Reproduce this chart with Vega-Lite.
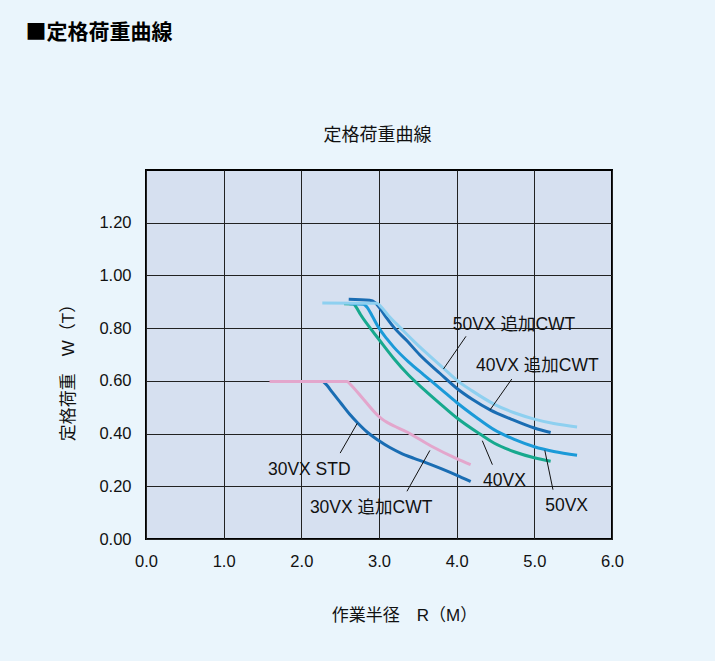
{
  "$schema": "https://vega.github.io/schema/vega-lite/v6.json",
  "width": 466,
  "height": 369,
  "autosize": {"type": "none"},
  "padding": {"left": 146, "top": 170, "right": 103, "bottom": 122},
  "background": "#eaf5fc",
  "config": {
    "font": "Liberation Sans, Noto Sans CJK JP",
    "view": {"fill": "#d6e0f0", "stroke": "#000000", "strokeWidth": 2}
  },
  "datasets": {
    "curves": [
      {"s": "30VX STD", "x": 2.28, "y": 0.598},
      {"s": "30VX STD", "x": 2.33, "y": 0.583},
      {"s": "30VX STD", "x": 2.40, "y": 0.556},
      {"s": "30VX STD", "x": 2.51, "y": 0.515},
      {"s": "30VX STD", "x": 2.62, "y": 0.474},
      {"s": "30VX STD", "x": 2.72, "y": 0.442},
      {"s": "30VX STD", "x": 2.85, "y": 0.405},
      {"s": "30VX STD", "x": 3.00, "y": 0.373},
      {"s": "30VX STD", "x": 3.14, "y": 0.347},
      {"s": "30VX STD", "x": 3.28, "y": 0.326},
      {"s": "30VX STD", "x": 3.45, "y": 0.306},
      {"s": "30VX STD", "x": 3.61, "y": 0.289},
      {"s": "30VX STD", "x": 3.80, "y": 0.267},
      {"s": "30VX STD", "x": 4.04, "y": 0.237},
      {"s": "30VX STD", "x": 4.18, "y": 0.218},
      {"s": "30VX 追加CWT", "x": 1.59, "y": 0.598},
      {"s": "30VX 追加CWT", "x": 2.59, "y": 0.598},
      {"s": "30VX 追加CWT", "x": 2.62, "y": 0.590},
      {"s": "30VX 追加CWT", "x": 2.80, "y": 0.530},
      {"s": "30VX 追加CWT", "x": 2.98, "y": 0.470},
      {"s": "30VX 追加CWT", "x": 3.04, "y": 0.455},
      {"s": "30VX 追加CWT", "x": 3.12, "y": 0.440},
      {"s": "30VX 追加CWT", "x": 3.36, "y": 0.406},
      {"s": "30VX 追加CWT", "x": 3.67, "y": 0.353},
      {"s": "30VX 追加CWT", "x": 4.00, "y": 0.305},
      {"s": "30VX 追加CWT", "x": 4.18, "y": 0.282},
      {"s": "40VX", "x": 2.55, "y": 0.893},
      {"s": "40VX", "x": 2.67, "y": 0.892},
      {"s": "40VX", "x": 2.71, "y": 0.878},
      {"s": "40VX", "x": 2.76, "y": 0.853},
      {"s": "40VX", "x": 2.88, "y": 0.803},
      {"s": "40VX", "x": 3.00, "y": 0.757},
      {"s": "40VX", "x": 3.19, "y": 0.685},
      {"s": "40VX", "x": 3.38, "y": 0.622},
      {"s": "40VX", "x": 3.58, "y": 0.567},
      {"s": "40VX", "x": 3.80, "y": 0.510},
      {"s": "40VX", "x": 4.00, "y": 0.460},
      {"s": "40VX", "x": 4.30, "y": 0.398},
      {"s": "40VX", "x": 4.48, "y": 0.364},
      {"s": "40VX", "x": 4.75, "y": 0.330},
      {"s": "40VX", "x": 5.00, "y": 0.308},
      {"s": "40VX", "x": 5.21, "y": 0.295},
      {"s": "50VX", "x": 2.62, "y": 0.893},
      {"s": "50VX", "x": 2.80, "y": 0.891},
      {"s": "50VX", "x": 2.85, "y": 0.878},
      {"s": "50VX", "x": 2.92, "y": 0.842},
      {"s": "50VX", "x": 3.00, "y": 0.800},
      {"s": "50VX", "x": 3.10, "y": 0.760},
      {"s": "50VX", "x": 3.19, "y": 0.728},
      {"s": "50VX", "x": 3.38, "y": 0.672},
      {"s": "50VX", "x": 3.58, "y": 0.622},
      {"s": "50VX", "x": 3.80, "y": 0.568},
      {"s": "50VX", "x": 4.00, "y": 0.518},
      {"s": "50VX", "x": 4.25, "y": 0.462},
      {"s": "50VX", "x": 4.48, "y": 0.415},
      {"s": "50VX", "x": 4.75, "y": 0.377},
      {"s": "50VX", "x": 5.00, "y": 0.350},
      {"s": "50VX", "x": 5.25, "y": 0.332},
      {"s": "50VX", "x": 5.55, "y": 0.318},
      {"s": "40VX 追加CWT", "x": 2.61, "y": 0.910},
      {"s": "40VX 追加CWT", "x": 2.88, "y": 0.906},
      {"s": "40VX 追加CWT", "x": 2.95, "y": 0.897},
      {"s": "40VX 追加CWT", "x": 3.02, "y": 0.872},
      {"s": "40VX 追加CWT", "x": 3.10, "y": 0.838},
      {"s": "40VX 追加CWT", "x": 3.20, "y": 0.800},
      {"s": "40VX 追加CWT", "x": 3.36, "y": 0.752},
      {"s": "40VX 追加CWT", "x": 3.52, "y": 0.700},
      {"s": "40VX 追加CWT", "x": 3.79, "y": 0.627},
      {"s": "40VX 追加CWT", "x": 4.00, "y": 0.572},
      {"s": "40VX 追加CWT", "x": 4.20, "y": 0.530},
      {"s": "40VX 追加CWT", "x": 4.43, "y": 0.490},
      {"s": "40VX 追加CWT", "x": 4.70, "y": 0.455},
      {"s": "40VX 追加CWT", "x": 5.00, "y": 0.421},
      {"s": "40VX 追加CWT", "x": 5.21, "y": 0.404},
      {"s": "50VX 追加CWT", "x": 2.27, "y": 0.895},
      {"s": "50VX 追加CWT", "x": 2.97, "y": 0.894},
      {"s": "50VX 追加CWT", "x": 3.03, "y": 0.880},
      {"s": "50VX 追加CWT", "x": 3.12, "y": 0.848},
      {"s": "50VX 追加CWT", "x": 3.28, "y": 0.800},
      {"s": "50VX 追加CWT", "x": 3.45, "y": 0.750},
      {"s": "50VX 追加CWT", "x": 3.62, "y": 0.703},
      {"s": "50VX 追加CWT", "x": 3.84, "y": 0.645},
      {"s": "50VX 追加CWT", "x": 4.00, "y": 0.603},
      {"s": "50VX 追加CWT", "x": 4.20, "y": 0.562},
      {"s": "50VX 追加CWT", "x": 4.48, "y": 0.512},
      {"s": "50VX 追加CWT", "x": 4.75, "y": 0.478},
      {"s": "50VX 追加CWT", "x": 5.00, "y": 0.455},
      {"s": "50VX 追加CWT", "x": 5.25, "y": 0.438},
      {"s": "50VX 追加CWT", "x": 5.55, "y": 0.425}
    ],
    "leaders": [
      {"x": 4.12, "y": 0.769, "x2": 3.83, "y2": 0.645},
      {"x": 4.71, "y": 0.607, "x2": 4.43, "y2": 0.490},
      {"x": 4.33, "y": 0.373, "x2": 4.46, "y2": 0.282},
      {"x": 5.135, "y": 0.336, "x2": 5.24, "y2": 0.187},
      {"x": 2.72, "y": 0.439, "x2": 2.50, "y2": 0.326},
      {"x": 3.655, "y": 0.336, "x2": 3.36, "y2": 0.181}
    ],
    "labels": [
      {"t": "50VX 追加CWT", "x": 3.95, "y": 0.813},
      {"t": "40VX 追加CWT", "x": 4.25, "y": 0.655},
      {"t": "40VX", "x": 4.34, "y": 0.219},
      {"t": "50VX", "x": 5.14, "y": 0.124},
      {"t": "30VX STD", "x": 1.57, "y": 0.260},
      {"t": "30VX 追加CWT", "x": 2.11, "y": 0.118}
    ]
  },
  "resolve": {"axis": {"x": "independent", "y": "independent"}},
  "layer": [
    {
      "data": {"name": "curves"},
      "mark": {"type": "line", "interpolate": "monotone", "strokeWidth": 3},
      "encoding": {
        "x": {
          "field": "x", "type": "quantitative",
          "scale": {"domain": [0, 6], "nice": false, "zero": false},
          "axis": {
            "values": [0, 1, 2, 3, 4, 5, 6], "format": ".1f", "labelFlush": false,
            "grid": true, "gridColor": "#222222", "gridWidth": 1, "gridOpacity": 1,
            "ticks": false, "domain": false,
            "labelFontSize": 16.5, "labelColor": "#111111", "labelPadding": 14,
            "title": "作業半径　R（M）", "titleFontSize": 17, "titleFontWeight": "normal",
            "titleColor": "#111111", "titleX": 258, "titleY": 76,
            "titleAlign": "center", "titleBaseline": "middle"
          }
        },
        "y": {
          "field": "y", "type": "quantitative",
          "scale": {"domain": [0, 1.4], "nice": false},
          "axis": {
            "values": [0, 0.2, 0.4, 0.6, 0.8, 1.0, 1.2], "format": ".2f", "labelFlush": false,
            "grid": true, "gridColor": "#222222", "gridWidth": 1, "gridOpacity": 1,
            "ticks": false, "domain": false,
            "labelFontSize": 16.5, "labelColor": "#111111", "labelPadding": 15,
            "title": "定格荷重　W（T）", "titleFontSize": 17, "titleFontWeight": "normal",
            "titleColor": "#111111", "titleX": -78, "titleY": 198,
            "titleAlign": "center", "titleBaseline": "middle", "titleAngle": -90
          }
        },
        "color": {
          "field": "s", "type": "nominal",
          "scale": {
            "domain": ["30VX STD", "30VX 追加CWT", "40VX", "50VX", "40VX 追加CWT", "50VX 追加CWT"],
            "range": ["#1a6db3", "#e3a6cc", "#17a98e", "#1b9ad8", "#1a6db3", "#8ed0f0"]
          },
          "legend": null
        }
      }
    },
    {
      "data": {"name": "leaders"},
      "mark": {"type": "rule", "strokeWidth": 1, "color": "#111111"},
      "encoding": {
        "x": {
          "field": "x", "type": "quantitative",
          "axis": {
            "orient": "top", "labels": false, "ticks": false, "domain": false, "grid": false,
            "title": "定格荷重曲線", "titleFontSize": 18, "titleFontWeight": "normal",
            "titleColor": "#111111", "titleX": 231, "titleY": -35,
            "titleAlign": "center", "titleBaseline": "middle"
          }
        },
        "y": {"field": "y", "type": "quantitative", "axis": null},
        "x2": {"field": "x2"},
        "y2": {"field": "y2"}
      }
    },
    {
      "data": {"name": "labels"},
      "mark": {"type": "text", "align": "left", "baseline": "middle", "fontSize": 17.5, "color": "#111111"},
      "encoding": {
        "x": {
          "field": "x", "type": "quantitative",
          "axis": {
            "orient": "top", "labels": false, "ticks": false, "domain": false, "grid": false,
            "title": "■定格荷重曲線", "titleFont": "Noto Sans CJK JP", "titleFontSize": 21, "titleFontWeight": "bold",
            "titleColor": "#000000", "titleX": -121, "titleY": -138,
            "titleAlign": "left", "titleBaseline": "middle"
          }
        },
        "y": {"field": "y", "type": "quantitative", "axis": null},
        "text": {"field": "t"}
      }
    }
  ]
}
